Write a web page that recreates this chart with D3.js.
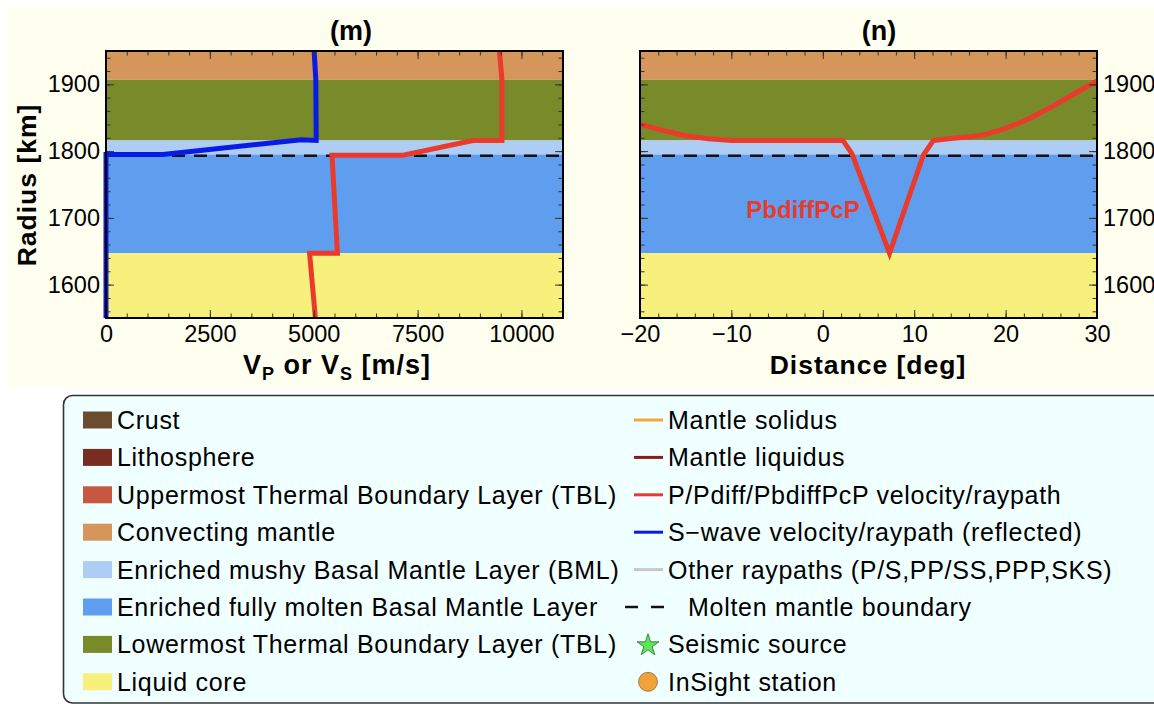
<!DOCTYPE html>
<html>
<head>
<meta charset="utf-8">
<script src="https://cdn.jsdelivr.net/npm/d3@7"></script>
<style>
  html, body { margin: 0; padding: 0; background: #ffffff; }
  svg { display: block; }
</style>
</head>
<body>
<svg id="chart" width="1154" height="704"></svg>
<script>
// ---------------- DATA ----------------
const layerNames = [
  "Crust", "Lithosphere", "Uppermost Thermal Boundary Layer (TBL)", "Convecting mantle",
  "Enriched mushy Basal Mantle Layer (BML)", "Enriched fully molten Basal Mantle Layer",
  "Lowermost Thermal Boundary Layer (TBL)", "Liquid core"
];
const layerColors = ["#6b4c2e", "#782d23", "#c65842", "#d4965a", "#aecdf5", "#5f9eee", "#798a2b", "#f7f07d"];

// visible bands in the radius window (index into layerNames)
const bandLayer  = [3, 6, 4, 5, 7];
const bandTop    = [1950, 1907, 1816, 1795, 1647];
const bandBottom = [1907, 1816, 1795, 1647, 1550];
const moltenBoundary = 1793;

// panel (m): velocity profiles
const vpVel = [9470, 9530, 9530, 8830, 7150, 5440, 5570, 4900, 5040];
const vpRad = [1950, 1907, 1816, 1816, 1794, 1794, 1647, 1647, 1550];
const vsVel = [5010, 5050, 5060, 4700, 1370, 0, 0];
const vsRad = [1950, 1907, 1816, 1817, 1795, 1795, 1550];

// panel (n): PbdiffPcP raypath
const rayDist = [-20, -17.5, -15, -12.5, -10, 0, 2.2, 3.2, 7.3, 11.0, 12.1, 14, 16.3, 17.5, 20, 22.5, 25, 27.5, 30];
const rayRad  = [1840, 1831, 1823, 1818.5, 1816, 1816, 1816, 1796, 1647, 1794, 1816, 1819, 1822, 1824, 1834, 1848, 1866, 1886, 1905];
const rayLabel = "PbdiffPcP";

// ticks
const velTicks  = [0, 2500, 5000, 7500, 10000];
const distTicks = [-20, -10, 0, 10, 20, 30];
const radTicks  = [1600, 1700, 1800, 1900];

// legend (right column)
const lineNames  = ["Mantle solidus", "Mantle liquidus", "P/Pdiff/PbdiffPcP velocity/raypath",
                    "S\u2212wave velocity/raypath (reflected)", "Other raypaths (P/S,PP/SS,PPP,SKS)"];
const lineColors = ["#f5a53a", "#8b1a1a", "#ea3a2c", "#0a1ae6", "#c8c8c8"];
const markerNames = ["Molten mantle boundary", "Seismic source", "InSight station"];

// ---------------- DRAW ----------------
const svg = d3.select("#chart");
const FONT = "'Liberation Sans', Arial, Helvetica, sans-serif";
const RED = lineColors[2], BLUE = lineColors[3];

svg.append("rect").attr("x", 8).attr("y", 7).attr("width", 1146).attr("height", 380).attr("fill", "#fffff0");

const T = 51, B = 318;
const y = d3.scaleLinear().domain([1550, 1950]).range([B, T]);
const xM = d3.scaleLinear().domain([0, 11000]).range([106, 563]);
const xN = d3.scaleLinear().domain([-20, 30]).range([640, 1097]);
const numFmt = d3.format("d");

function panel(x, id) {
  const g = svg.append("g");
  const [x0, x1] = x.range();
  g.append("clipPath").attr("id", id).append("rect")
    .attr("x", x0 - 4).attr("y", T).attr("width", x1 - x0 + 8).attr("height", B - T);
  g.selectAll("rect.band").data(bandLayer).join("rect")
    .attr("x", x0).attr("width", x1 - x0)
    .attr("y", (d, i) => y(bandTop[i])).attr("height", (d, i) => y(bandBottom[i]) - y(bandTop[i]))
    .attr("fill", d => layerColors[d]);
  g.append("line").attr("x1", x0).attr("x2", x1).attr("y1", y(moltenBoundary)).attr("y2", y(moltenBoundary))
    .attr("stroke", "#111").attr("stroke-width", 2.6).attr("stroke-dasharray", "13,9");
  return g;
}

function axes(x, minorStep, majors, labelSide) {
  const [x0, x1] = x.range();
  const minors = d3.range(x.domain()[0], x.domain()[1] + 1e-9, minorStep);
  const yMinors = d3.range(1560, 1950, 20);
  const gb = svg.append("g").attr("transform", `translate(0,${B})`);
  gb.call(d3.axisBottom(x).tickValues(minors).tickSize(-4.5).tickFormat(""));
  const gb2 = svg.append("g").attr("transform", `translate(0,${B})`);
  gb2.call(d3.axisBottom(x).tickValues(majors).tickSize(-8).tickPadding(7).tickFormat(numFmt));
  const gt = svg.append("g").attr("transform", `translate(0,${T})`);
  gt.call(d3.axisTop(x).tickValues(minors).tickSize(-4.5).tickFormat(""));
  const gt2 = svg.append("g").attr("transform", `translate(0,${T})`);
  gt2.call(d3.axisTop(x).tickValues(majors).tickSize(-8).tickFormat(""));
  const gl = svg.append("g").attr("transform", `translate(${x0},0)`);
  gl.call(d3.axisLeft(y).tickValues(yMinors).tickSize(-4.5).tickFormat(""));
  const gr = svg.append("g").attr("transform", `translate(${x1},0)`);
  gr.call(d3.axisRight(y).tickValues(yMinors).tickSize(-4.5).tickFormat(""));
  const gl2 = svg.append("g").attr("transform", `translate(${x0},0)`);
  const gr2 = svg.append("g").attr("transform", `translate(${x1},0)`);
  if (labelSide === "left") {
    gl2.call(d3.axisLeft(y).tickValues(radTicks).tickSize(-8).tickPadding(6).tickFormat(numFmt));
    gr2.call(d3.axisRight(y).tickValues(radTicks).tickSize(-8).tickFormat(""));
  } else {
    gl2.call(d3.axisLeft(y).tickValues(radTicks).tickSize(-8).tickFormat(""));
    gr2.call(d3.axisRight(y).tickValues(radTicks).tickSize(-8).tickPadding(6).tickFormat(numFmt));
  }
  [gb, gb2, gt, gt2, gl, gr, gl2, gr2].forEach(g => {
    g.selectAll(".domain").remove();
    g.selectAll("line").attr("stroke", "#333").attr("stroke-width", 1);
    g.selectAll("text").attr("font-family", FONT).attr("font-size", 23.5).attr("fill", "#000");
  });
  svg.append("rect").attr("x", x0).attr("y", T).attr("width", x1 - x0).attr("height", B - T)
    .attr("fill", "none").attr("stroke", "#000").attr("stroke-width", 2);
}

// panel m
const gm = panel(xM, "clipM");
const lineM = d3.line().x(d => xM(d[0])).y(d => y(d[1]));
gm.append("path").datum(vpVel.map((v, i) => [v, vpRad[i]]))
  .attr("d", lineM).attr("fill", "none").attr("stroke", RED).attr("stroke-width", 5)
  .attr("stroke-linejoin", "miter").attr("clip-path", "url(#clipM)");
gm.append("path").datum(vsVel.map((v, i) => [v, vsRad[i]]))
  .attr("d", lineM).attr("fill", "none").attr("stroke", BLUE).attr("stroke-width", 5)
  .attr("stroke-linejoin", "miter").attr("clip-path", "url(#clipM)");
axes(xM, 500, velTicks, "left");

// panel n
const gn = panel(xN, "clipN");
const lineN = d3.line().x(d => xN(d[0])).y(d => y(d[1]));
gn.append("path").datum(rayDist.map((v, i) => [v, rayRad[i]]))
  .attr("d", lineN).attr("fill", "none").attr("stroke", RED).attr("stroke-width", 5)
  .attr("stroke-linejoin", "miter").attr("stroke-miterlimit", 10);
gn.append("text").attr("x", 803).attr("y", 218).attr("text-anchor", "middle")
  .attr("font-family", FONT).attr("font-weight", "bold").attr("font-size", 24)
  .attr("fill", RED).text(rayLabel);
axes(xN, 2, distTicks, "right");

// titles
function boldText(x, yy, txt, size) {
  return svg.append("text").attr("x", x).attr("y", yy).attr("text-anchor", "middle")
    .attr("font-family", FONT).attr("font-weight", "bold").attr("font-size", size)
    .attr("fill", "#000").text(txt);
}
boldText(351, 40, "(m)", 27);
boldText(879, 40, "(n)", 27);
boldText(868, 374, "Distance [deg]", 26.5).attr("letter-spacing", 1);
const xt = svg.append("text").attr("x", 337).attr("y", 374).attr("text-anchor", "middle")
  .attr("font-family", FONT).attr("font-weight", "bold").attr("font-size", 27).attr("letter-spacing", 1);
xt.append("tspan").text("V");
xt.append("tspan").attr("font-size", 18).attr("dy", 6).text("P");
xt.append("tspan").attr("dy", -6).text(" or V");
xt.append("tspan").attr("font-size", 18).attr("dy", 6).text("S");
xt.append("tspan").attr("dy", -6).text(" [m/s]");
svg.append("text").attr("transform", "translate(36,185) rotate(-90)").attr("text-anchor", "middle")
  .attr("font-family", FONT).attr("font-weight", "bold").attr("font-size", 26.5).attr("letter-spacing", 1)
  .text("Radius [km]");

// ---------------- LEGEND ----------------
const lg = svg.append("g");
lg.append("rect").attr("x", 63.5).attr("y", 395.5).attr("width", 1200).attr("height", 307.5).attr("rx", 9)
  .attr("fill", "#f0ffff").attr("stroke", "#333").attr("stroke-width", 1.6);
const rowY = i => 420 + i * 37.4;
const LFS = 25, LLS = 0.7;
lg.selectAll("rect.sw").data(layerNames).join("rect")
  .attr("x", 83).attr("width", 29).attr("y", (d, i) => rowY(i) - 8.5).attr("height", 17)
  .attr("fill", (d, i) => layerColors[i]);
lg.selectAll("text.lt").data(layerNames).join("text")
  .attr("x", 117).attr("y", (d, i) => rowY(i) + 9)
  .attr("font-family", FONT).attr("font-size", LFS).attr("letter-spacing", LLS).attr("fill", "#000").text(d => d);
lg.selectAll("line.ll").data(lineNames).join("line")
  .attr("x1", 634).attr("x2", 663).attr("y1", (d, i) => rowY(i)).attr("y2", (d, i) => rowY(i))
  .attr("stroke", (d, i) => lineColors[i]).attr("stroke-width", 3);
lg.selectAll("text.rt").data(lineNames).join("text")
  .attr("x", 668).attr("y", (d, i) => rowY(i) + 9)
  .attr("font-family", FONT).attr("font-size", LFS).attr("letter-spacing", LLS).attr("fill", "#000").text(d => d);
lg.append("line").attr("x1", 625).attr("x2", 673).attr("y1", rowY(5)).attr("y2", rowY(5))
  .attr("stroke", "#111").attr("stroke-width", 2.6).attr("stroke-dasharray", "13,13");
lg.append("text").attr("x", 688).attr("y", rowY(5) + 9).attr("font-family", FONT).attr("font-size", LFS)
  .attr("letter-spacing", LLS).text(markerNames[0]);
lg.append("path").attr("d", d3.symbol(d3.symbolStar, 150)())
  .attr("transform", `translate(648,${rowY(6) + 1})`).attr("fill", "#5ee65a").attr("stroke", "#2d6a2d").attr("stroke-width", 0.8);
lg.append("text").attr("x", 668).attr("y", rowY(6) + 9).attr("font-family", FONT).attr("font-size", LFS)
  .attr("letter-spacing", LLS).text(markerNames[1]);
lg.append("circle").attr("cx", 648).attr("cy", rowY(7)).attr("r", 9.5)
  .attr("fill", "#f0a33a").attr("stroke", "#8a6a3a").attr("stroke-width", 0.8);
lg.append("text").attr("x", 668).attr("y", rowY(7) + 9).attr("font-family", FONT).attr("font-size", LFS)
  .attr("letter-spacing", LLS).text(markerNames[2]);
</script>
</body>
</html>
